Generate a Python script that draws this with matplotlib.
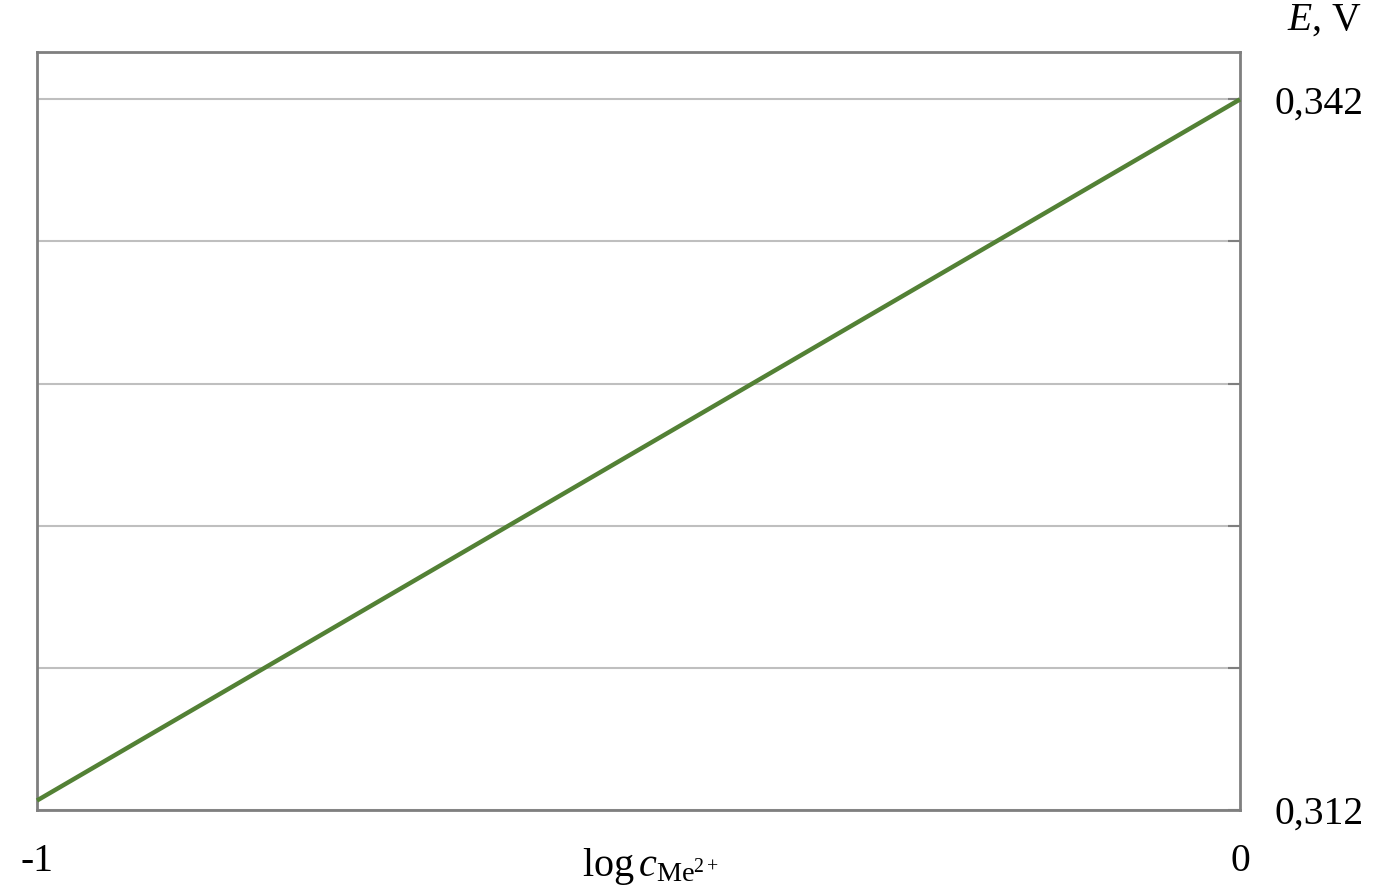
import matplotlib
matplotlib.use('Agg')
import matplotlib.pyplot as plt
from matplotlib.ticker import FixedLocator, FuncFormatter

plt.rcParams['font.family'] = ['Liberation Serif', 'DejaVu Serif']
plt.rcParams['mathtext.fontset'] = 'custom'
plt.rcParams['mathtext.rm'] = 'Liberation Serif'
plt.rcParams['mathtext.it'] = 'Liberation Serif:italic'

# Nernst line data
log_c = [-1, 0]
potential = [0.3124, 0.342]
grid_ticks = [0.312, 0.318, 0.324, 0.330, 0.336, 0.342]
labelled = {0.312: '0,312', 0.342: '0,342'}
x_ticks = [-1, 0]
x_tick_labels = ['-1', '0']

fig = plt.figure(figsize=(14, 8.88), dpi=100)
ax = fig.add_axes([37 / 1400, 78 / 888, 1203 / 1400, 758 / 888])

ax.plot(log_c, potential, color='#538135', lw=3.2, solid_capstyle='butt', zorder=3, clip_on=False)

ax.set_xlim(-1, 0)
ax.set_ylim(0.312, 0.344)

ax.yaxis.tick_right()
ax.yaxis.set_major_locator(FixedLocator(grid_ticks))
ax.yaxis.set_major_formatter(FuncFormatter(
    lambda v, p: next((t for k, t in labelled.items() if abs(k - v) < 1e-6), '')))
ax.tick_params(axis='y', direction='in', length=9, width=1.5, color='#7f7f7f',
               labelsize=28.5, pad=25)
ax.set_xticks(x_ticks)
ax.set_xticklabels(x_tick_labels)
ax.tick_params(axis='x', length=0, labelsize=28.5, pad=24)

ax.grid(axis='y', color='#bfbfbf', lw=1.5, zorder=0)
for s in ax.spines.values():
    s.set_color('#7f7f7f')
    s.set_linewidth(2)

fig.text(650 / 1400, 22 / 888, r'$\mathrm{log}\,c_{\mathrm{Me}^{2+}}$', fontsize=29, ha='center', va='center')
fig.text(1362 / 1400, 868 / 888, r'$E$, V', fontsize=28.5, ha='right', va='center')

fig.savefig('out.png', dpi=100)
